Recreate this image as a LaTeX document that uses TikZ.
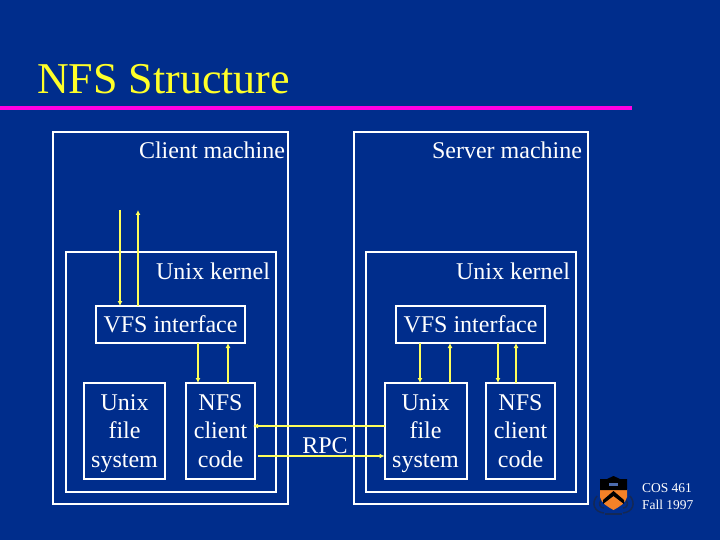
\documentclass[tikz,border=0pt]{standalone}
\usepackage{fontspec}
\setmainfont{Liberation Serif}
\usetikzlibrary{arrows.meta}
\definecolor{slidebg}{RGB}{0,45,140}
\definecolor{linkyellow}{RGB}{255,255,90}
\definecolor{titleyellow}{RGB}{255,255,40}
\definecolor{rulepink}{RGB}{255,0,225}
\definecolor{shieldorange}{RGB}{245,130,40}
\definecolor{liondark}{RGB}{20,40,85}
\begin{document}
\begin{tikzpicture}[x=1pt, y=-1pt,
        every node/.style={text=white, inner sep=0pt, outer sep=0pt},
        frame/.style={draw=white, line width=2pt, align=center, font=\fontsize{24}{28.5}\selectfont},
        caption/.style={anchor=base east, font=\fontsize{24}{28.5}\selectfont},
        link/.style={draw=linkyellow, line width=2pt},
        tip/.style={-{Latex[length=5pt,width=5pt]}}]
        \useasboundingbox[fill=slidebg] (0, 0) rectangle (720, 540);

        \node (title) at (37, 94)[anchor=base west, text=titleyellow, font=\fontsize{44}{48}\selectfont] {NFS Structure};
        \fill[rulepink] (0, 106) rectangle (632, 110);

        \node (client) at (170.5, 318)[frame, minimum width=235pt, minimum height=372pt] {};
        \node (server) at (471, 318)[frame, minimum width=234pt, minimum height=372pt] {};
        \node (clientkernel) at (171, 372)[frame, minimum width=210pt, minimum height=240pt] {};
        \node (serverkernel) at (471, 372)[frame, minimum width=210pt, minimum height=240pt] {};

        \node (clientlabel) at (285, 159)[caption] {Client machine};
        \node (serverlabel) at (582, 159)[caption] {Server machine};
        \node (clientkernellabel) at (270, 279)[caption] {Unix kernel};
        \node (serverkernellabel) at (570, 279)[caption] {Unix kernel};

        \node (clientvfs) at (170.5, 324.5)[frame, minimum width=149pt, minimum height=37pt] {VFS interface};
        \node (servervfs) at (470.5, 324.5)[frame, minimum width=149pt, minimum height=37pt] {VFS interface};

        \node (clientufs) at (124.5, 431)[frame, minimum width=81pt, minimum height=96pt] {Unix\\file\\\smash{system}};
        \node (clientnfs) at (220.5, 431)[frame, minimum width=69pt, minimum height=96pt] {NFS\\client\\code};
        \node (serverufs) at (425.5, 431)[frame, minimum width=82pt, minimum height=96pt] {Unix\\file\\\smash{system}};
        \node (servernfs) at (520.5, 431)[frame, minimum width=69pt, minimum height=96pt] {NFS\\client\\code};

        \node (rpc) at (325, 453)[anchor=base, font=\fontsize{24}{28.5}\selectfont] {RPC};

        \coordinate (userdown) at (120, 210);
        \coordinate (userup) at (138, 210);
        \coordinate (clienta) at (198, 0);
        \coordinate (clientb) at (228, 0);
        \coordinate (servera) at (420, 0);
        \coordinate (serverb) at (450, 0);
        \coordinate (serverc) at (498, 0);
        \coordinate (serverd) at (516, 0);
        \coordinate (rpcreply) at (253, 426);
        \coordinate (rpccall) at (258, 456);

        \draw[link, tip] (userdown) -- (clientvfs.north -| userdown);
        \draw[link, tip] (clientvfs.north -| userup) -- (userup);

        \draw[link, tip] (clientvfs.south -| clienta) -- (clientnfs.north -| clienta);
        \draw[link, tip] (clientnfs.north -| clientb) -- (clientvfs.south -| clientb);

        \draw[link, tip] (servervfs.south -| servera) -- (serverufs.north -| servera);
        \draw[link, tip] (serverufs.north -| serverb) -- (servervfs.south -| serverb);
        \draw[link, tip] (servervfs.south -| serverc) -- (servernfs.north -| serverc);
        \draw[link, tip] (servernfs.north -| serverd) -- (servervfs.south -| serverd);

        \draw[link, tip] (serverufs.west |- rpcreply) -- (rpcreply);
        \draw[link, tip] (rpccall) -- (serverufs.west |- rpccall);

        % crest
        \draw[liondark, line width=1.5pt] (597, 496) .. controls (591, 503) and (594, 512) .. (604, 513);
        \draw[liondark, line width=1.5pt] (630, 496) .. controls (636, 503) and (633, 512) .. (623, 513);
        \draw[liondark, line width=1.5pt] (601, 500) .. controls (598, 504) and (600, 508) .. (604, 508);
        \draw[liondark, line width=1.5pt] (626, 500) .. controls (629, 504) and (627, 508) .. (623, 508);
        \draw[liondark, line width=1.5pt] (605, 514) -- (622, 514);
        \fill[shieldorange] (600, 489) -- (627, 489) -- (627, 497) .. controls (626, 503) and (619, 507) .. (613.5, 510) .. controls (608, 507) and (601, 503) .. (600, 497) -- cycle;
        \fill[black] (600, 479) -- (607, 479) -- (613.5, 476) -- (620, 479) -- (627, 479) -- (627, 490) -- (600, 490) -- cycle;
        \fill[black] (603, 500) -- (613.5, 491) -- (624, 500) -- (624, 504) -- (613.5, 496) -- (603, 504) -- cycle;
        \fill[slidebg!70!white] (609, 483) rectangle (618, 486);

        \node (course) at (642, 492)[anchor=base west, font=\fontsize{13.5}{15}\selectfont] {COS 461};
        \node (term) at (642, 509)[anchor=base west, font=\fontsize{13.5}{15}\selectfont] {Fall 1997};
    \end{tikzpicture}
\end{document}
